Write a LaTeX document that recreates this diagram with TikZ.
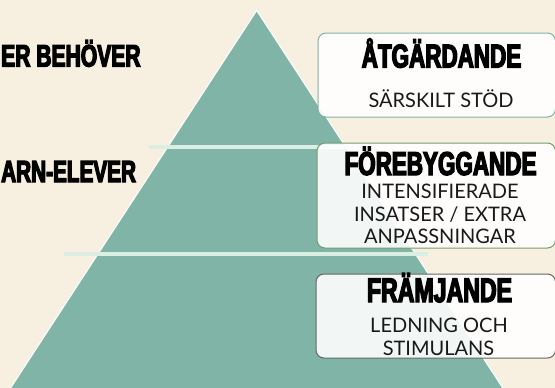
\documentclass[tikz,border=0pt]{standalone}
\usepackage{fontspec}
\setmainfont{Lato}
\newfontfamily\ttlfont[FakeStretch=0.68,FakeBold=4]{Liberation Sans Bold}
\definecolor{bgcream}{HTML}{F7F0E1}
\definecolor{pyrteal}{HTML}{80B4A7}
\definecolor{barmint}{HTML}{DBEEE3}
\definecolor{boxone}{HTML}{7FB3A6}
\definecolor{boxtwo}{HTML}{739C6C}
\definecolor{boxthree}{HTML}{666666}
\tikzset{
  lvlbox/.style={draw, line width=1pt, rounded corners=8pt, fill=white, fill opacity=0.9, text opacity=1, inner sep=0pt},
  ttl/.style={font=\ttlfont\fontsize{#1}{#1}\selectfont, anchor=base, inner sep=0pt},
  ttl/.default=32,
  sidettl/.style={font=\ttlfont\fontsize{#1}{#1}\selectfont, anchor=base west, inner sep=0pt},
  sidettl/.default=31,
  body/.style={font=\fontsize{20}{22}\selectfont, anchor=base, inner sep=0pt, text=black!90},
  bar/.style={fill=barmint, draw=none}
}
\begin{document}
\begin{tikzpicture}[x=1pt,y=-1pt]
\useasboundingbox (0,0) rectangle (555,388);
\fill[bgcream] (0,0) rectangle (555,388);
% pyramid
\coordinate (apex) at (256.7,10.5);
\coordinate (bl) at (10,389);
\coordinate (br) at (503.4,389);
\filldraw[fill=pyrteal, draw=white, line width=1pt] (bl) -- (apex) -- (br);
% bars
\fill[bar] (149,145) rectangle (363,149);
\fill[bar] (64,251.5) rectangle (428,256);
% side labels
\node[sidettl=31] (s1) at (1,66.5) {ER BEHÖVER};
\node[sidettl=30.5] (s2) at (1,182) {ARN-ELEVER};
% boxes
\node[lvlbox, draw=boxone, minimum width=237.5pt, minimum height=84pt] (b1) at (436.75,75) {};
\node[lvlbox, draw=boxtwo, minimum width=238.5pt, minimum height=105pt] (b2) at (436.25,195.5) {};
\node[lvlbox, draw=boxthree, minimum width=239.5pt, minimum height=84pt] (b3) at (435.75,316) {};
% texts
\node[ttl=33] (t1) at (441.5,67.5) {ÅTGÄRDANDE};
\node[ttl=33] (t2) at (440.5,175) {FÖREBYGGANDE};
\node[ttl=34] (t3) at (439.5,302) {FRÄMJANDE};
\node[body] (d1) at (441,107) {SÄRSKILT STÖD};
\node[body] (d2a) at (440,198.5) {INTENSIFIERADE};
\node[body] (d2b) at (440,221) {INSATSER / EXTRA};
\node[body] (d2c) at (440,243) {ANPASSNINGAR};
\node[body] (d3a) at (439,332) {LEDNING OCH};
\node[body] (d3b) at (438.5,355) {STIMULANS};
\end{tikzpicture}
\end{document}
